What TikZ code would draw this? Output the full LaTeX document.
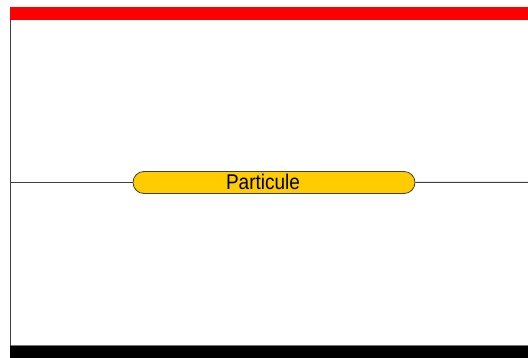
\documentclass[tikz,border=0pt]{standalone}
\usepackage{fontspec}
\setmainfont{Liberation Sans}
\usetikzlibrary{shapes.misc}
\definecolor{or}{HTML}{FFCC00}
\definecolor{trait}{HTML}{404040}
\begin{document}
\begin{tikzpicture}[x=1pt, y=-1pt,
  pill/.style={rounded rectangle, draw=trait, fill=or, line width=0.8pt,
    minimum width=282pt, minimum height=22pt, inner sep=0pt,
    font=\fontsize{19}{19}\selectfont},
  fil/.style={draw=trait, line width=1pt}]
  % --- parametres ---
  \def\xg{10.5}  % bord gauche
  \def\ym{182.5} % axe de la particule

  \useasboundingbox (0,0) rectangle (528,358);

  % bandes haut et bas
  \fill[red] (10,7) rectangle (528,20);
  \fill[black] (10,346) rectangle (528,358);
  \draw[fil, draw=black!55] (10,345.5) -- (528,345.5);

  % bord gauche
  \draw[fil] (\xg,20) -- (\xg,346);

  % la particule sur son axe (texte un peu a gauche du centre)
  \node[pill] (part) at (274,\ym)
    {\hspace*{-22pt}\raisebox{2pt}{\scalebox{1}[1.12]{Particule}}};
  \coordinate (gauche) at (\xg,\ym);
  \coordinate (droite) at (528,\ym);
  \draw[fil] (gauche) -- (part);
  \draw[fil] (part) -- (droite);
\end{tikzpicture}
\end{document}
